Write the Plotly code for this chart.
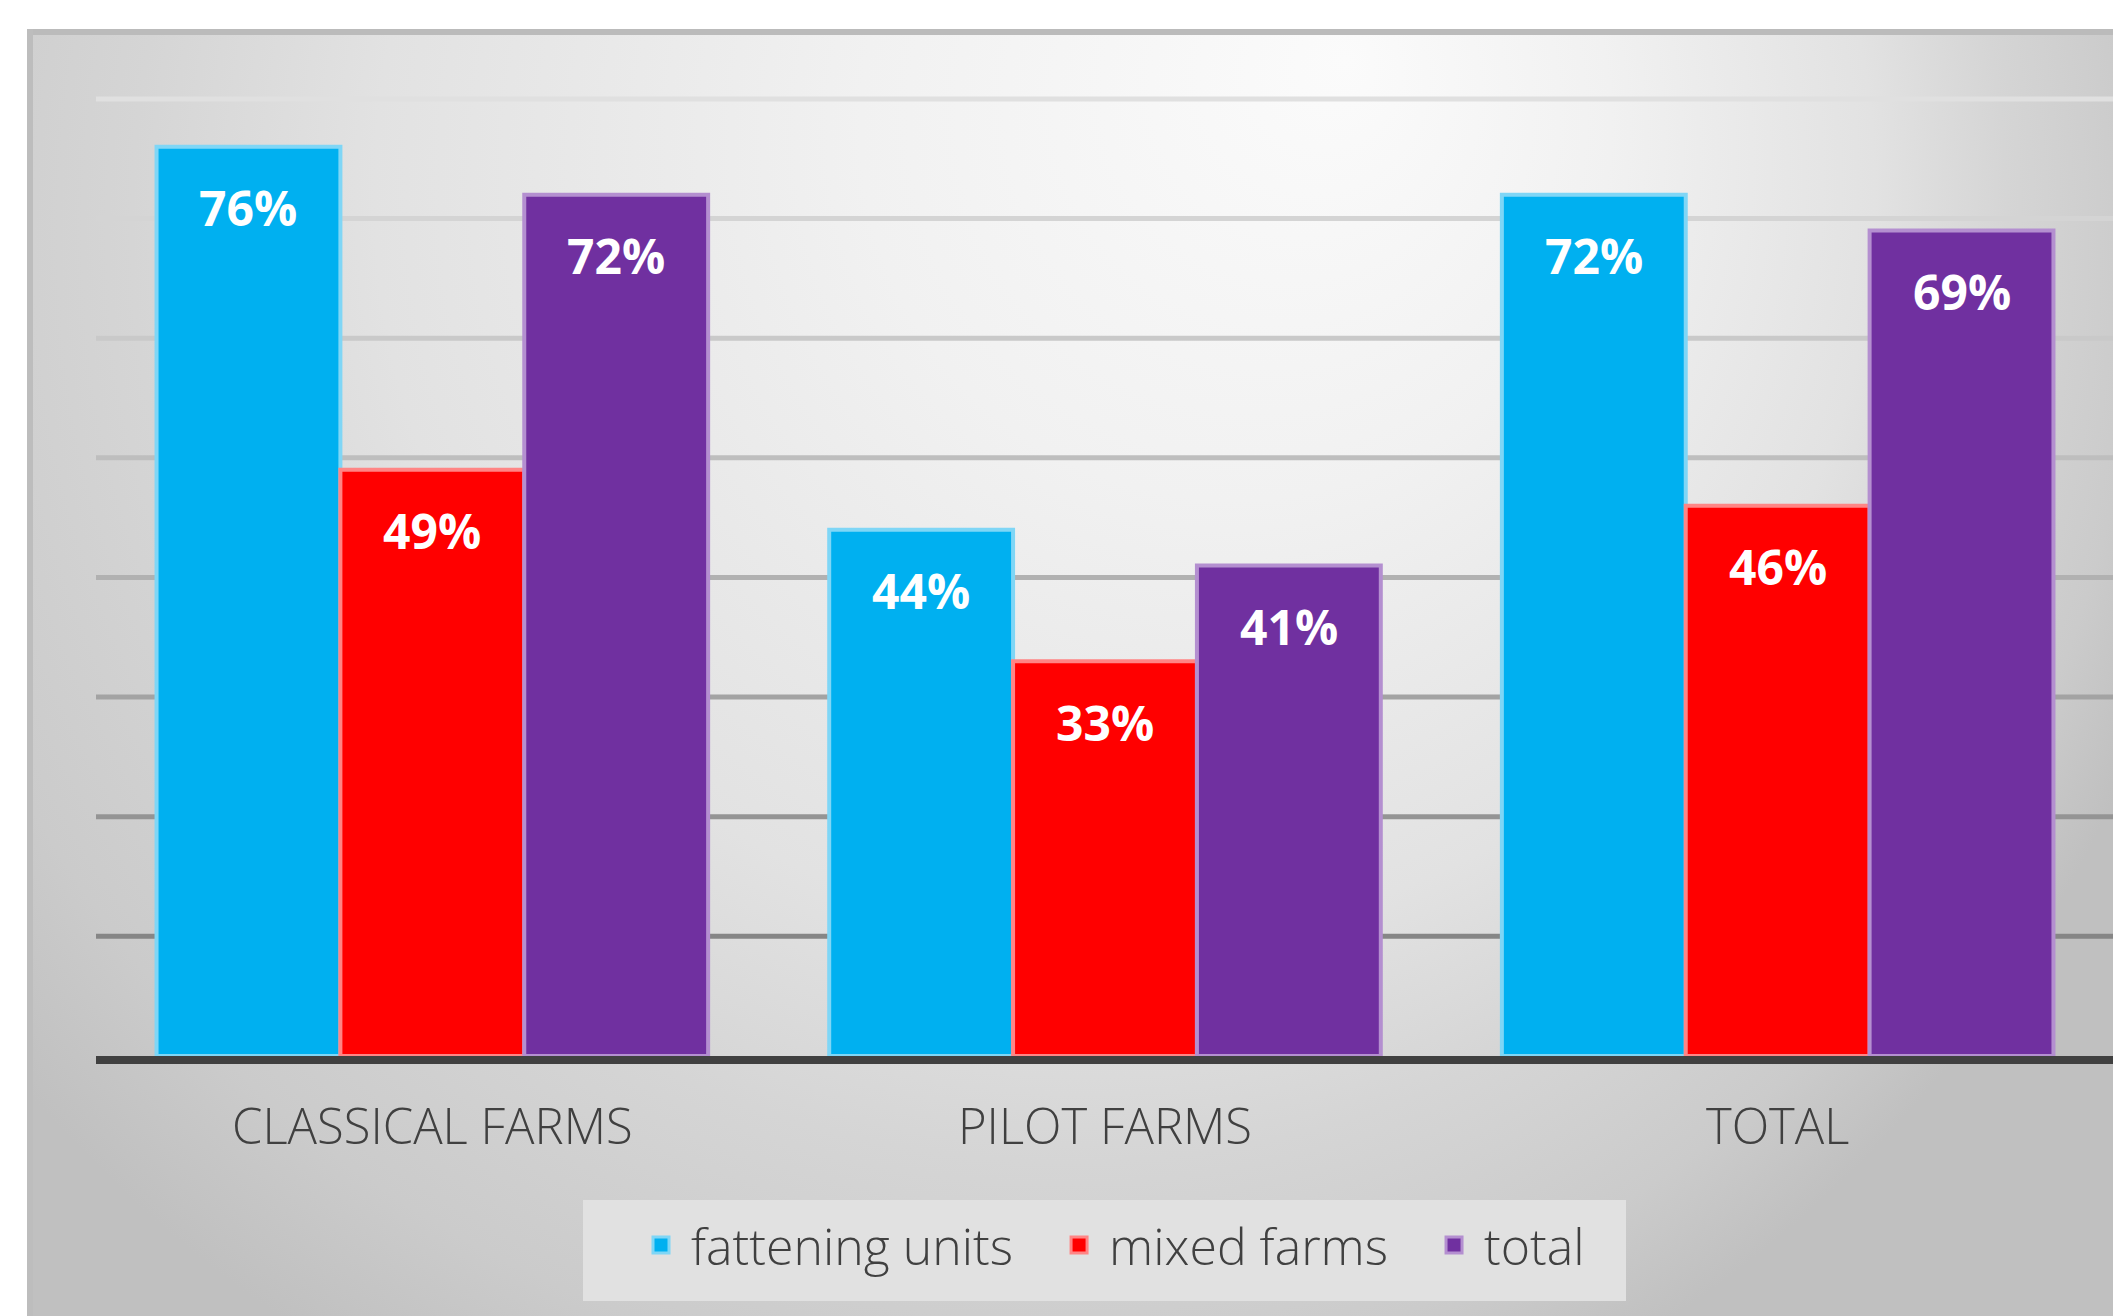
import base64
import plotly.graph_objects as go

# ---- data ----
categories = ["CLASSICAL FARMS", "PILOT FARMS", "TOTAL"]
series_names = ["fattening units", "mixed farms", "total"]
fattening_units = [76, 44, 72]
mixed_farms = [49, 33, 46]
total = [72, 41, 69]
series_values = [fattening_units, mixed_farms, total]
grid_values = [10, 20, 30, 40, 50, 60, 70, 80]

# ---- styles ----
fill_colors = ["#00B0F0", "#FF0000", "#7030A0"]
edge_colors = ["#7fd6f6", "#ff8585", "#b48fd0"]
grid_colors = {10: "#868686", 20: "#949494", 30: "#a3a3a3", 40: "#b1b1b1",
               50: "#bebebe", 60: "#c9c9c9", 70: "#d4d4d4", 80: "#e0e0e0"}
LEGEND_PAD = "\u00a0\u00a0\u200a"

OFF = 8                      # page body margin of the html
PW, PH = 2121, 1316          # page size
W, H = PW - OFF, PH - OFF    # figure size
# page-space targets
PLOT_L, PLOT_R, AXIS_Y = 96, 2114, 1056
YMAX = 80.5
PX_PER_UNIT = 11.96
PLOT_T = AXIS_Y - YMAX * PX_PER_UNIT
L = PLOT_L - OFF
R = PW - PLOT_R
T = round(PLOT_T - OFF)
B = PH - AXIS_Y
pxw, pxh = W - L - R, H - T - B
BARGAP = 0.18


def px_x(p):  # page x -> paper x
    return (p - OFF - L) / pxw


def px_y(p):  # page y -> paper y
    return (H - B - (p - OFF)) / pxh


fig = go.Figure()
for name, vals, fc, ec in zip(series_names, series_values, fill_colors, edge_colors):
    fig.add_trace(go.Bar(
        x=categories, y=vals, name=name, showlegend=False,
        marker=dict(color=fc, line=dict(color=ec, width=4)),
        hoverinfo="skip",
    ))
# legend entries (square swatches)
for name, fc, ec in zip(series_names, fill_colors, edge_colors):
    fig.add_trace(go.Scatter(
        x=[None], y=[None], mode="markers", name=name + LEGEND_PAD,
        marker=dict(symbol="square", size=16, color=fc, line=dict(color=ec, width=3)),
        hoverinfo="skip",
    ))

# value labels inside bars near the top
w = (1 - BARGAP) / len(series_names)
for k, vals in enumerate(series_values):
    for i, v in enumerate(vals):
        fig.add_annotation(
            x=i + (k - (len(series_names) - 1) / 2) * w, y=v,
            xref="x", yref="y", text=f"{v}%", showarrow=False,
            yanchor="middle", yshift=-61,
            font=dict(family="Open Sans", size=48, color="white", weight="bold"),
        )

# gradient gridlines
for g in grid_values:
    fig.add_shape(type="line", xref="paper", yref="y", x0=0, x1=1, y0=g, y1=g,
                  line=dict(color=grid_colors[g], width=5), layer="below")

# legend box
fig.add_shape(type="rect", xref="paper", yref="paper",
              x0=px_x(583), x1=px_x(1626), y0=px_y(1200), y1=px_y(1301),
              fillcolor="#e1e1e1", line=dict(width=0), layer="above")

# background panel with radial gradient
pw, ph = PW - 27, PH - 29
svg = f'''<svg xmlns="http://www.w3.org/2000/svg" width="{pw}" height="{ph}" viewBox="0 0 {pw} {ph}" preserveAspectRatio="none">
<defs><radialGradient id="g" gradientUnits="userSpaceOnUse" cx="950" cy="250" r="1250" fx="1320" fy="30">
<stop offset="0" stop-color="#fbfbfb"/><stop offset="0.3" stop-color="#f1f1f1"/>
<stop offset="0.6" stop-color="#e2e2e2"/><stop offset="0.75" stop-color="#d5d5d5"/>
<stop offset="0.9" stop-color="#cbcbcb"/><stop offset="1" stop-color="#c0c0c0"/>
</radialGradient></defs>
<rect x="0" y="0" width="{pw}" height="{ph}" fill="url(#g)"/>
<rect x="0" y="0" width="{pw}" height="6" fill="#bbbbbb"/>
<rect x="0" y="0" width="6" height="{ph}" fill="#bdbdbd"/>
</svg>'''
src = "data:image/svg+xml;base64," + base64.b64encode(svg.encode()).decode()
fig.add_layout_image(dict(
    source=src, xref="paper", yref="paper",
    x=px_x(27), y=px_y(29), sizex=pw / pxw, sizey=ph / pxh,
    xanchor="left", yanchor="top", sizing="stretch", layer="below",
))

fig.update_layout(
    width=W, height=H,
    margin=dict(l=L, r=R, t=T, b=B, pad=0),
    paper_bgcolor="white", plot_bgcolor="rgba(0,0,0,0)",
    barmode="group", bargap=BARGAP, bargroupgap=0,
    showlegend=True,
    legend=dict(
        orientation="h", x=px_x(631), xanchor="left",
        y=px_y(1245), yanchor="middle",
        bgcolor="rgba(0,0,0,0)", borderwidth=0, itemwidth=50,
        font=dict(family="Open Sans", size=50, color="#404040", weight=300),
        traceorder="normal", itemclick=False, itemdoubleclick=False,
    ),
    xaxis=dict(
        showgrid=False, showline=True, linecolor="#404040", linewidth=8,
        ticks="", tickfont=dict(family="Open Sans", size=49, color="#404040", weight=300),
        ticklabelstandoff=21, fixedrange=True,
    ),
    yaxis=dict(
        range=[0, YMAX], showgrid=False, zeroline=False, showticklabels=False,
        showline=False, fixedrange=True,
    ),
)

fig.write_html("out.html")
